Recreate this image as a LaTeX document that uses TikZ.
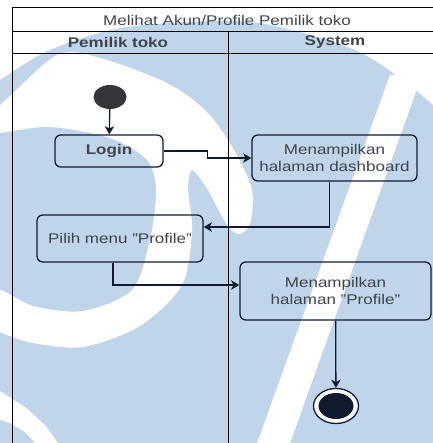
\documentclass[tikz,border=0pt]{standalone}
\usepackage{fontspec}
\setmainfont{Liberation Sans}[FakeStretch=1.21]
\usetikzlibrary{arrows.meta,calc,shapes.geometric}
\definecolor{wmblue}{RGB}{192,213,234}
\definecolor{navy}{RGB}{16,28,46}
\definecolor{txtgray}{RGB}{62,68,76}
\definecolor{startgray}{RGB}{52,54,58}
\begin{document}
\begin{tikzpicture}[x=0.03cm,y=-0.03cm,font=\fontsize{12}{14.5}\selectfont,
    act/.style={draw=navy,rounded corners=5pt,line width=1.1pt,align=center,text=txtgray,inner sep=0pt},
    flow/.style={draw=navy,line width=1.1pt,-{Stealth[length=7pt,width=8pt,inset=2pt]}},
    lane/.style={draw=black,line width=.8pt}]
    \useasboundingbox (0,0) rectangle (433,443);
    % watermark
    \begin{scope}
        \clip (0,0) rectangle (433,443);
        \fill[wmblue] plot[smooth] coordinates {(-20,92) (0,80) (50,50) (127,27) (250,22) (350,48) (400,78) (433,105) (450,122)}
            -- (450,450) -- (-20,450) -- cycle;
        \fill[white] plot[smooth cycle,tension=.5] coordinates {(-20,115) (0,105) (57,55) (100,58) (167,83) (207,112)
            (234,150) (252,190) (250,224) (238,234) (224,220) (208,190) (192,170) (188,190) (192,230) (182,285)
            (140,326) (83,347) (33,343) (0,332) (-20,320) (-20,300) (0,290) (33,306) (83,311) (132,290) (150,240)
            (156,190) (147,160) (110,138) (50,127) (0,133) (-20,135)};
        \fill[white] (390,75) -- (422,75) -- (289,446) -- (256,446) -- cycle;
        \fill[white] (-5,388) -- (25,407) -- (45,425) -- (60,446) -- (38,446) -- (25,432) -- (10,423) -- (-5,418) -- cycle;
    \end{scope}
    % swimlanes
    \draw[lane] (12,443) -- (12,7) -- (433,7);
    \draw[lane] (12,31) -- (433,31);
    \draw[lane] (12,53) -- (433,53);
    \draw[lane] (228,31) -- (228,443);
    \node[text=txtgray] (title) at (227,20) {Melihat Akun/Profile Pemilik toko};
    \node[text=txtgray] (hdrowner) at (118,42) {\bfseries Pemilik toko};
    \node[text=txtgray] (hdrsys) at (335,42) {\bfseries System};
    % activities
    \node[ellipse,fill=startgray,minimum width=.99cm,minimum height=.72cm,inner sep=0pt] (start) at (110,97) {};
    \node[act,minimum width=3.24cm,minimum height=.96cm] (login) at (109,151) {\bfseries Login};
    \node[act,minimum width=4.95cm,minimum height=1.38cm] (dash) at (334.5,158) {Menampilkan\\halaman dashboard};
    \node[act,minimum width=4.98cm,minimum height=1.41cm] (pilih) at (120,238.5) {Pilih menu "Profile"};
    \node[act,minimum width=5.73cm,minimum height=1.74cm] (profile) at (335.5,291) {Menampilkan\\halaman "Profile"};
    \node[ellipse,draw=navy,fill=white,line width=1.1pt,minimum width=1.35cm,minimum height=1.05cm,inner sep=0pt] (stop) at (336,406) {};
    \node[ellipse,fill=navy,minimum width=1.05cm,minimum height=.78cm,inner sep=0pt] (stopin) at (stop) {};
    % flows
    \draw[flow] (start) -- (login);
    \draw[flow] (login.east) -- ++(44,0) |- (dash.west);
    \draw[flow] ($(dash.south)+(-5,0)$) |- ($(pilih.east)+(0,-11.5)$);
    \draw[flow] ($(pilih.south)+(-7,0)$) |- ($(profile.west)+(0,-6)$);
    \draw[flow] (profile) -- (stop);
\end{tikzpicture}
\end{document}
